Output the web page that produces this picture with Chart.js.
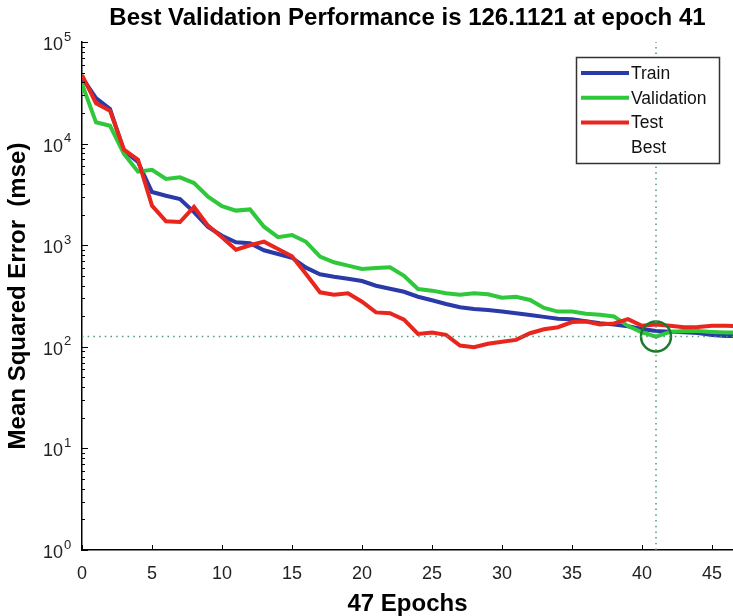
<!DOCTYPE html>
<html><head><meta charset="utf-8">
<script src="https://cdn.jsdelivr.net/npm/chart.js@4.4.0/dist/chart.umd.min.js"></script>
<style>html,body{margin:0;padding:0;background:#fff;overflow:hidden}
#wrap{position:relative;width:733px;height:616px}</style>
</head><body><div id="wrap"><canvas id="c" width="733" height="616"></canvas></div>
<script>
const epochs = [0,1,2,3,4,5,6,7,8,9,10,11,12,13,14,15,16,17,18,19,20,21,22,23,24,25,26,27,28,29,30,31,32,33,34,35,36,37,38,39,40,41,42,43,44,45,46,47];
const train = [44900,28000,21900,8500,6600,3340,3070,2850,2120,1510,1240,1070,1045,891,819,753,601,517,490,468,444,399,373,348,311,287,264,245,236,230,222,214,206,197,189,187,179,171,166,159,150,143,141,139,137,131,128,127];
const validation = [38600,16200,15000,7900,5290,5530,4490,4660,4090,3000,2420,2190,2250,1520,1200,1260,1080,771,679,629,583,597,606,500,370,357,336,326,336,329,304,311,289,241,222,222,212,207,199,160,139,126.1121,140,143,143,140,138,138];
const test = [47300,25000,21100,8710,6950,2450,1720,1690,2380,1560,1200,903,998,1083,918,778,521,344,326,336,278,218,214,185,134,138,131,103,99,107,112,117,136,149,156,175,177,166,170,187,161,166,161,156,157,161,161,160];
const bestEpoch = 41;
const bestPerf = 126.1121;
const xTicks = [0,5,10,15,20,25,30,35,40,45];
const yDecades = [1,10,100,1000,10000,100000];
const titleText = 'Best Validation Performance is 126.1121 at epoch 41';
const xLabel = '47 Epochs';
const yLabel = 'Mean Squared Error  (mse)';
const seriesNames = ['Train','Validation','Test','Best'];

const FONT = "'Liberation Sans', Arial, Helvetica, sans-serif";
const pts = arr => epochs.map((e,i)=>({x:e,y:arr[i]}));

const decor = {
  id:'decor',
  afterDraw(chart){
    const ctx = chart.ctx, xs = chart.scales.x, ys = chart.scales.y, a = chart.chartArea;
    ctx.save();
    ctx.strokeStyle = '#000'; ctx.lineWidth = 1;
    for (let d = 0; d < 5; d++) {
      for (let m = 1; m <= 9; m++) {
        const v = m*Math.pow(10,d);
        const py = Math.round(ys.getPixelForValue(v)) + 0.5;
        const len = m === 1 ? 6 : 3;
        ctx.beginPath(); ctx.moveTo(a.left, py); ctx.lineTo(a.left+len, py); ctx.stroke();
      }
    }
    { const py = Math.round(ys.getPixelForValue(1e5)) + 0.5;
      ctx.beginPath(); ctx.moveTo(a.left, py); ctx.lineTo(a.left+6, py); ctx.stroke(); }
    xTicks.forEach(v=>{
      const px = Math.round(xs.getPixelForValue(v)) + 0.5;
      ctx.beginPath(); ctx.moveTo(px, a.bottom); ctx.lineTo(px, a.bottom-5); ctx.stroke();
    });
    ctx.fillStyle = '#222';
    yDecades.forEach(v=>{
      const py = ys.getPixelForValue(v);
      const ex = String(Math.round(Math.log10(v)));
      ctx.font = '18px ' + FONT; ctx.textAlign = 'right'; ctx.textBaseline = 'middle';
      ctx.fillText('10', 63, py + 3);
      ctx.font = '13px ' + FONT; ctx.textAlign = 'left';
      ctx.fillText(ex, 64, py - 5);
    });
    const bx = 576.5, by = 57.5, bw = 143, bh = 106;
    ctx.fillStyle = '#fff'; ctx.fillRect(bx, by, bw, bh);
    ctx.strokeStyle = '#333'; ctx.lineWidth = 1.5; ctx.strokeRect(bx, by, bw, bh);
    const items = chart.data.datasets.filter(ds => seriesNames.includes(ds.label));
    items.forEach((ds,i)=>{
      const ry = 73 + i*24.7;
      if (ds.showLine !== false) {
        ctx.strokeStyle = ds.borderColor; ctx.lineWidth = 4;
        ctx.beginPath(); ctx.moveTo(581, ry); ctx.lineTo(629, ry); ctx.stroke();
      }
      ctx.fillStyle = '#111'; ctx.font = '17.5px ' + FONT;
      ctx.textAlign = 'left'; ctx.textBaseline = 'middle';
      ctx.fillText(ds.label, 631, ry + 1);
    });
    ctx.restore();
  }
};

new Chart(document.getElementById('c'), {
  type: 'line',
  data: {
    datasets: [
      {label:'Train', data: pts(train), borderColor:'#2a3aa8', borderWidth:4, pointRadius:0, tension:0, fill:false, order:3},
      {label:'Validation', data: pts(validation), borderColor:'#2ec83a', borderWidth:4, pointRadius:0, tension:0, fill:false, order:2},
      {label:'Test', data: pts(test), borderColor:'#e8261e', borderWidth:4, pointRadius:0, tension:0, fill:false, order:1},
      {label:'Best', data:[{x:bestEpoch, y:bestPerf}], showLine:false, pointRadius:15, pointHoverRadius:15, pointStyle:'circle',
        borderColor:'#1b7a2c', pointBorderColor:'#1b7a2c', pointBackgroundColor:'rgba(0,0,0,0)', pointBorderWidth:2.5, order:0},
      {label:'bestV', data:[{x:bestEpoch,y:1},{x:bestEpoch,y:1e5}], borderColor:'#4f9a70', borderWidth:1.5, borderDash:[1.5,4.2], pointRadius:0, fill:false, order:-1},
      {label:'bestH', data:[{x:0,y:bestPerf},{x:47,y:bestPerf}], borderColor:'#4f9a70', borderWidth:1.5, borderDash:[1.5,4.2], pointRadius:0, fill:false, order:-1}
    ]
  },
  options: {
    responsive:false, animation:false, devicePixelRatio:1,
    layout:{padding:0, autoPadding:false},
    plugins:{
      legend:{display:false}, tooltip:{enabled:false},
      title:{display:true, text:titleText, fullSize:false, color:'#000',
        font:{family:FONT, size:24, weight:'bold', lineHeight:1.2}, padding:{top:4, bottom:9.2}}
    },
    scales:{
      x:{type:'linear', min:0, max:46.5,
        afterFit(s){ s.height = 66; s.paddingLeft = 0; s.paddingRight = 0; },
        afterBuildTicks(s){ s.ticks = xTicks.map(v=>({value:v})); },
        grid:{display:false, drawTicks:false},
        border:{display:true, color:'#000', width:1.5},
        ticks:{includeBounds:false, autoSkip:false, maxRotation:0, color:'#222', padding:13,
          font:{family:FONT, size:18}},
        title:{display:true, text:xLabel, color:'#000', font:{family:FONT, size:24, weight:'bold', lineHeight:1}, padding:{top:0,bottom:0}}
      },
      y:{type:'logarithmic', min:1, max:100000,
        afterFit(s){ s.width = 82; s.paddingTop = 0; s.paddingBottom = 0; },
        grid:{display:false, drawTicks:false},
        border:{display:true, color:'#000', width:1.5},
        ticks:{display:false},
        title:{display:true, text:yLabel, color:'#000', font:{family:FONT, size:24, weight:'bold', lineHeight:1.2}, padding:{top:4,bottom:0}}
      }
    }
  },
  plugins:[decor]
});
</script>
</body></html>
